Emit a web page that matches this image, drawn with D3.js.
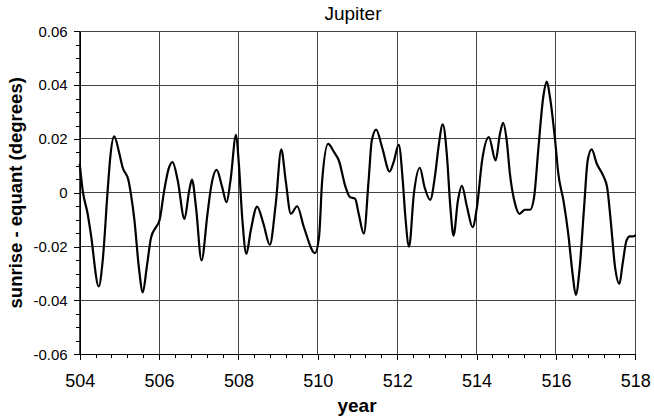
<!DOCTYPE html>
<html lang="en">
	<head>
		<meta charset="UTF-8">
		<title>Jupiter</title>
		<script src="https://cdn.jsdelivr.net/npm/d3@7"></script>
		<style>
			html, body {
				margin: 0;
				background: #fff;
			}
			svg text {
				font-family: Arial, 'Liberation Sans', sans-serif;
				fill: #000;
			}
		</style>
	</head>
	<body>
		<div id="container"></div>
		<script>
			const years = [
				504.0, 504.075, 504.2, 504.28, 504.48, 504.58, 504.71, 504.77, 504.87, 505.0,
				505.08, 505.23, 505.29, 505.38, 505.49, 505.59, 505.69, 505.8, 505.92, 506.01,
				506.13, 506.24, 506.34, 506.47, 506.64, 506.76, 506.83, 506.93, 507.07, 507.22,
				507.31, 507.45, 507.59, 507.7, 507.8, 507.94, 508.01, 508.1, 508.2, 508.31,
				508.47, 508.63, 508.79, 508.94, 509.08, 509.19, 509.32, 509.48, 509.65, 509.93,
				510.03, 510.11, 510.26, 510.41, 510.53, 510.7, 510.81, 510.94, 511.03, 511.16,
				511.28, 511.36, 511.47, 511.62, 511.81, 511.91, 512.04, 512.14, 512.2, 512.3,
				512.42, 512.57, 512.69, 512.83, 512.96, 513.04, 513.15, 513.25, 513.34, 513.42,
				513.53, 513.63, 513.76, 513.9, 514.01, 514.14, 514.31, 514.48, 514.59, 514.67,
				514.76, 514.84, 514.97, 515.08, 515.22, 515.35, 515.45, 515.56, 515.68, 515.77,
				515.85, 515.98, 516.06, 516.19, 516.31, 516.42, 516.5, 516.6, 516.71, 516.8,
				516.9, 517.03, 517.19, 517.29, 517.38, 517.49, 517.6, 517.68, 517.78, 517.86,
				517.96, 518.0
			];
			const values = [
				0.0108, 0.0009, -0.0078, -0.0152, -0.0348, -0.0251, 0.002, 0.0132, 0.021, 0.0145,
				0.0095, 0.0046, -0.0004, -0.0103, -0.0276, -0.037, -0.0276, -0.0165, -0.0128, -0.0103,
				0.0009, 0.0089, 0.0114, 0.0046, -0.0097, 0.0009, 0.0049, -0.0053, -0.0251, -0.0078,
				0.0021, 0.0085, 0.0021, -0.0035, 0.0046, 0.0215, 0.0108, -0.0103, -0.0227, -0.014,
				-0.0051, -0.0115, -0.0193, -0.0041, 0.0161, 0.0046, -0.0078, -0.005, -0.0128, -0.0224,
				-0.0165, 0.0046, 0.0182, 0.0151, 0.012, 0.0021, -0.0016, -0.0022, -0.0078, -0.0152,
				0.0046, 0.0194, 0.0235, 0.0169, 0.0079, 0.0114, 0.0178, 0.0046, -0.0078, -0.02,
				-0.0004, 0.0093, 0.0021, -0.0026, 0.0071, 0.0169, 0.0254, 0.0145, -0.0053, -0.0159,
				-0.0029, 0.0026, -0.0053, -0.0128, -0.0053, 0.012, 0.0207, 0.012, 0.0219, 0.026,
				0.0194, 0.0071, -0.0041, -0.0078, -0.0063, -0.0063, -0.0016, 0.0169, 0.0355, 0.0413,
				0.0355, 0.0194, 0.0071, -0.0029, -0.0152, -0.0301, -0.0379, -0.0276, -0.0053, 0.012,
				0.0161, 0.0108, 0.0064, 0.0021, -0.0103, -0.0276, -0.0338, -0.0264, -0.0177, -0.0162,
				-0.0162, -0.0156
			];
			const xTicks = [504, 506, 508, 510, 512, 514, 516, 518];
			const yTicks = [-0.06, -0.04, -0.02, 0, 0.02, 0.04, 0.06];

			const width = 654;
			const height = 420;
			const margin = {top: 31.3, right: 18.7, bottom: 65.7, left: 79.7};

			const x = d3.scaleLinear()
				.domain([504, 518])
				.range([margin.left, width - margin.right]);
			const y = d3.scaleLinear()
				.domain([-0.06, 0.06])
				.range([height - margin.bottom, margin.top]);

			const svg = d3.select("#container").append("svg")
				.attr("width", width)
				.attr("height", height);

			// grid
			const grid = svg.append("g")
				.attr("stroke", "#444")
				.attr("stroke-width", 1)
				.attr("shape-rendering", "crispEdges");
			grid.selectAll(".vgrid")
				.data(xTicks)
				.join("line")
				.attr("x1", d => x(d)).attr("x2", d => x(d))
				.attr("y1", margin.top).attr("y2", height - margin.bottom);
			grid.selectAll(".hgrid")
				.data(yTicks)
				.join("line")
				.attr("class", "hgrid")
				.attr("x1", margin.left).attr("x2", width - margin.right)
				.attr("y1", d => y(d)).attr("y2", d => y(d));

			// minor ticks
			const xMinor = d3.range(0, 36).map(i => 504 + i * 0.4);
			const yMinor = d3.range(0, 25).map(i => -0.06 + i * 0.005);

			svg.append("g")
				.attr("transform", `translate(0,${height - margin.bottom})`)
				.call(d3.axisBottom(x).tickValues(xMinor).tickSize(4).tickFormat(""))
				.call(g => g.select(".domain").remove());
			svg.append("g")
				.attr("transform", `translate(${margin.left},0)`)
				.call(d3.axisLeft(y).tickValues(yMinor).tickSize(4).tickFormat(""))
				.call(g => g.select(".domain").remove());

			// major axes
			svg.append("g")
				.attr("transform", `translate(0,${height - margin.bottom})`)
				.call(d3.axisBottom(x).tickValues(xTicks).tickSize(6).tickSizeOuter(0).tickPadding(14).tickFormat(d3.format("d")))
				.call(g => g.selectAll("text").attr("font-size", 18));
			svg.append("g")
				.attr("transform", `translate(${margin.left},0)`)
				.call(d3.axisLeft(y).tickValues(yTicks).tickSize(6).tickSizeOuter(0).tickPadding(6)
					.tickFormat(d => Math.abs(d) < 1e-9 ? "0" : d.toFixed(2)))
				.call(g => g.selectAll("text").attr("font-size", 15));

			svg.selectAll(".tick line, .domain")
				.attr("stroke", "#000")
				.attr("shape-rendering", "crispEdges");

			// curve
			const points = years.map((yr, i) => [yr, values[i]]);
			svg.append("path")
				.datum(points)
				.attr("fill", "none")
				.attr("stroke", "#000")
				.attr("stroke-width", 2.2)
				.attr("stroke-linejoin", "round")
				.attr("d", d3.line()
					.x(d => x(d[0]))
					.y(d => y(d[1]))
					.curve(d3.curveMonotoneX));

			// labels
			svg.append("text")
				.attr("x", 353)
				.attr("y", 20)
				.attr("text-anchor", "middle")
				.attr("font-size", 19)
				.text("Jupiter");

			svg.append("text")
				.attr("x", 357)
				.attr("y", 412)
				.attr("text-anchor", "middle")
				.attr("font-size", 19)
				.attr("font-weight", "bold")
				.text("year");

			svg.append("text")
				.attr("transform", `translate(22,${(margin.top + height - margin.bottom) / 2}) rotate(-90)`)
				.attr("text-anchor", "middle")
				.attr("font-size", 18.5)
				.attr("font-weight", "bold")
				.text("sunrise - equant (degrees)");
		</script>
	</body>
</html>
